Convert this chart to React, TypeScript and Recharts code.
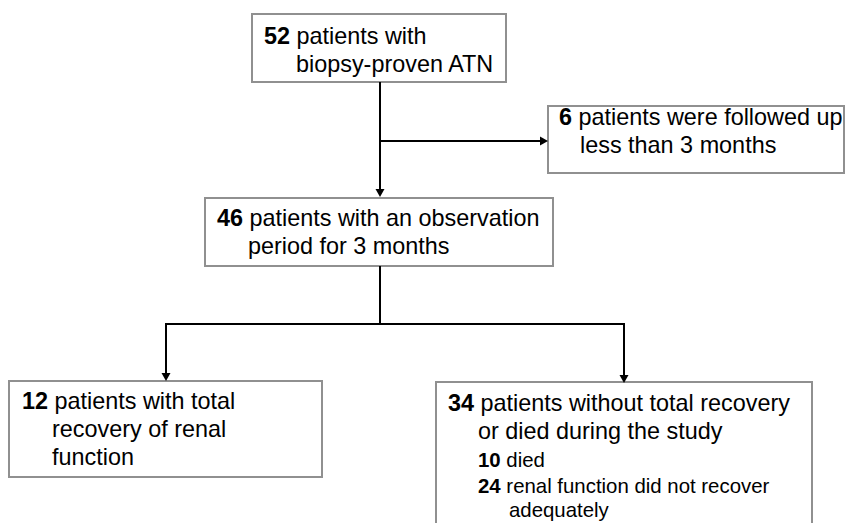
import React from 'react';
import { ComposedChart, XAxis, YAxis, ReferenceArea, ReferenceLine, Scatter } from 'recharts';

// Flowchart layout values (in the chart's own data space: x 0..845, y 0..523 top-down)
const boxes = [
  { id: 'all', x1: 252, x2: 506, y1: 14, y2: 82 },
  { id: 'excluded', x1: 548, x2: 844, y1: 106, y2: 173 },
  { id: 'observed', x1: 205, x2: 553, y1: 198, y2: 266 },
  { id: 'recovered', x1: 9, x2: 322, y1: 381, y2: 477 },
  { id: 'notRecovered', x1: 436, x2: 812, y1: 382, y2: 530 },
];

const connectors = [
  { from: { x: 380, y: 82 }, to: { x: 380, y: 191 } },
  { from: { x: 380, y: 141 }, to: { x: 541, y: 141 } },
  { from: { x: 380, y: 266 }, to: { x: 380, y: 324 } },
  { from: { x: 165, y: 324 }, to: { x: 625, y: 324 } },
  { from: { x: 166, y: 323 }, to: { x: 166, y: 375 } },
  { from: { x: 624, y: 323 }, to: { x: 624, y: 377 } },
];

const arrowTips = [
  { x: 380, y: 197, dir: 'down' },
  { x: 548, y: 141, dir: 'right' },
  { x: 166, y: 381, dir: 'down' },
  { x: 624, y: 383, dir: 'down' },
];

const textLines = [
  { x: 264, y: 44, num: '52', text: ' patients with', level: 'main' },
  { x: 296, y: 72, num: '', text: 'biopsy-proven ATN', level: 'main' },
  { x: 559, y: 125, num: '6', text: ' patients were followed up', level: 'main' },
  { x: 580, y: 153, num: '', text: 'less than 3 months', level: 'main' },
  { x: 217, y: 226, num: '46', text: ' patients with an observation', level: 'main' },
  { x: 248, y: 254, num: '', text: 'period for 3 months', level: 'main' },
  { x: 22, y: 409, num: '12', text: ' patients with total', level: 'main' },
  { x: 52, y: 437, num: '', text: 'recovery of renal', level: 'main' },
  { x: 52, y: 465, num: '', text: 'function', level: 'main' },
  { x: 448, y: 411, num: '34', text: ' patients without total recovery', level: 'main' },
  { x: 478, y: 439, num: '', text: 'or died during the study', level: 'main' },
  { x: 478, y: 467, num: '10', text: ' died', level: 'sub' },
  { x: 478, y: 493, num: '24', text: ' renal function did not recover', level: 'sub' },
  { x: 509, y: 517, num: '', text: 'adequately', level: 'sub' },
];

const FONT = '"Liberation Sans", Arial, Helvetica, sans-serif';

const ArrowHead = (props: any) => {
  const { cx, cy, payload } = props;
  if (cx == null || cy == null) return null;
  const pts =
    payload.dir === 'down'
      ? `${cx - 4.5},${cy - 8} ${cx + 4.5},${cy - 8} ${cx},${cy}`
      : `${cx - 8},${cy - 4.5} ${cx - 8},${cy + 4.5} ${cx},${cy}`;
  return <polygon points={pts} fill="#000" stroke="none" />;
};

const TextLine = (props: any) => {
  const { cx, cy, payload } = props;
  if (cx == null || cy == null) return null;
  const size = payload.level === 'main' ? 23.4 : 20.4;
  return (
    <text x={cx} y={cy} fontFamily={FONT} fontSize={size} fill="#000" textAnchor="start">
      {payload.num ? <tspan fontWeight="bold">{payload.num}</tspan> : null}
      <tspan>{payload.text}</tspan>
    </text>
  );
};

export default function App() {
  return (
    <div style={{ position: 'absolute', left: 0, top: 0, width: 845, height: 523, background: '#fff' }}>
      <ComposedChart width={845} height={523} margin={{ top: 0, right: 0, bottom: 0, left: 0 }}>
        <XAxis type="number" dataKey="x" domain={[0, 845]} hide allowDataOverflow />
        <YAxis type="number" dataKey="y" domain={[0, 523]} reversed hide allowDataOverflow />
        {connectors.map((c, i) => (
          <ReferenceLine
            key={`c${i}`}
            segment={[c.from, c.to]}
            stroke="#000"
            strokeWidth={2}
            ifOverflow="visible"
          />
        ))}
        {boxes.map((b) => (
          <ReferenceArea
            key={b.id}
            x1={b.x1}
            x2={b.x2}
            y1={b.y1}
            y2={b.y2}
            fill="#fff"
            fillOpacity={1}
            stroke="#909090"
            strokeWidth={2}
            ifOverflow="visible"
          />
        ))}
        <Scatter data={arrowTips} dataKey="y" shape={ArrowHead} isAnimationActive={false} />
        <Scatter data={textLines} dataKey="y" shape={TextLine} isAnimationActive={false} />
      </ComposedChart>
    </div>
  );
}
